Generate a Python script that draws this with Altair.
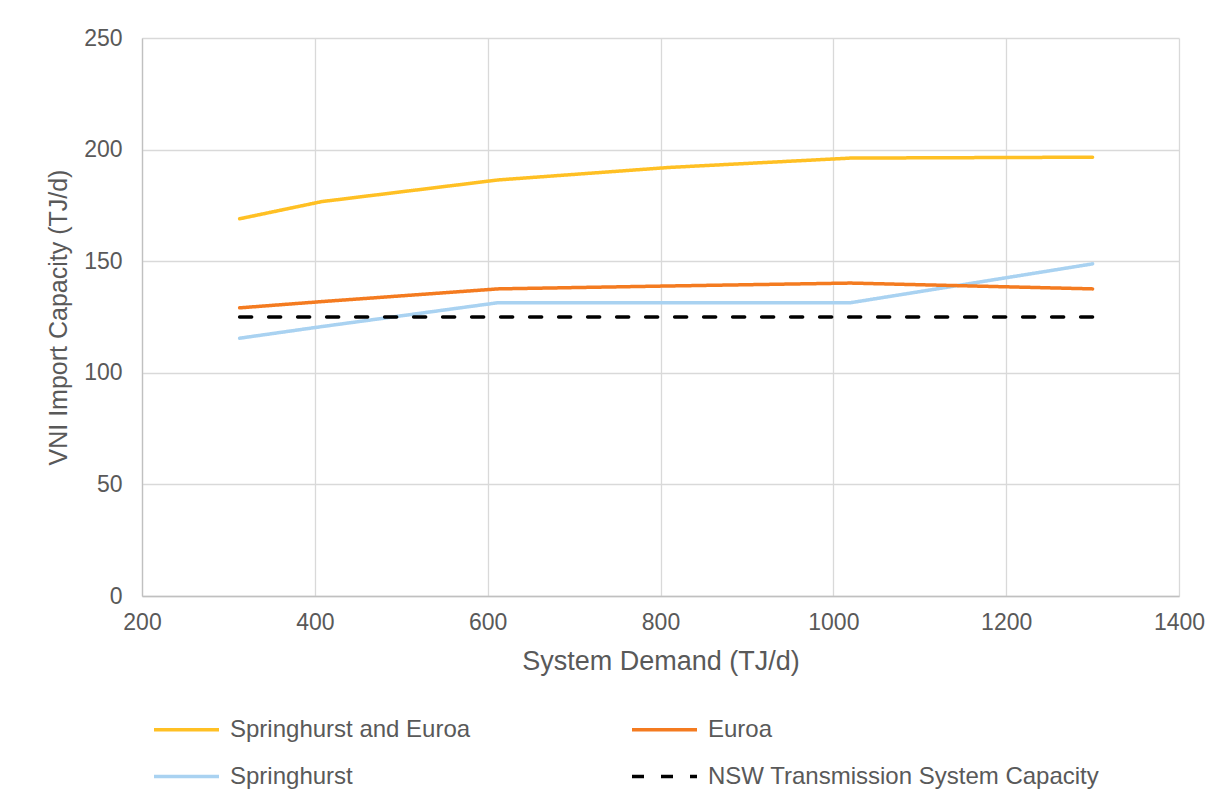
import altair as alt
import pandas as pd

# ---- data ----
demand = [313, 408, 612, 810, 1020, 1300]
springhurst_euroa = [169.0, 176.7, 186.4, 192.0, 196.2, 196.6]
euroa = [129.1, 131.9, 137.6, 138.9, 140.2, 137.6]
springhurst = [115.5, 120.7, 131.4, 131.4, 131.4, 148.8]
nsw_capacity = [125, 125, 125, 125, 125, 125]

# order chosen so the 2-column legend reads like the reference
series_names = ["Springhurst and Euroa", "Springhurst", "Euroa",
                "NSW Transmission System Capacity"]
series_values = [springhurst_euroa, springhurst, euroa, nsw_capacity]
series_colors = ["#FFC024", "#A9D2F1", "#F47B20", "#000000"]
series_dash = [[1, 0], [1, 0], [1, 0], [12, 17]]

x_ticks = [200, 400, 600, 800, 1000, 1200, 1400]
y_ticks = [0, 50, 100, 150, 200, 250]

rows = []
for name, vals in zip(series_names, series_values):
    for d, v in zip(demand, vals):
        rows.append({"series": name, "demand": d, "capacity": v})
df = pd.DataFrame(rows)

FONT = "Liberation Sans"
TXT = "#595959"

legend = alt.Legend(
    orient="none", legendX=10, legendY=657, columns=2, title=None,
    symbolType="stroke", symbolSize=4225, symbolStrokeWidth=3.5,
    labelFontSize=24, labelFont=FONT, labelColor=TXT, labelOffset=9,
    columnPadding=154, rowPadding=-45, padding=0, labelLimit=500,
)

chart = alt.Chart(df).mark_line(strokeWidth=3.5, strokeCap="round").encode(
    x=alt.X("demand:Q", scale=alt.Scale(domain=[200, 1400], nice=False),
            axis=alt.Axis(values=x_ticks, format="d", title="System Demand (TJ/d)",
                          labelFlush=False, labelOverlap=False,
                          labelPadding=15, titlePadding=14, titleFontSize=27)),
    y=alt.Y("capacity:Q", scale=alt.Scale(domain=[0, 250], nice=False),
            axis=alt.Axis(values=y_ticks, format="d", title="VNI Import Capacity (TJ/d)",
                          labelFlush=False, labelOverlap=False,
                          labelPadding=20, titlePadding=12, titleFontSize=25)),
    color=alt.Color("series:N", scale=alt.Scale(domain=series_names, range=series_colors),
                    legend=legend, sort=series_names),
    strokeDash=alt.StrokeDash("series:N", scale=alt.Scale(domain=series_names, range=series_dash),
                              legend=legend, sort=series_names),
).properties(
    width=1037, height=558,
    autosize=alt.AutoSizeParams(type="none"),
    padding={"left": 134, "top": 30, "right": 43, "bottom": 196},
    background="white",
).configure_axis(
    labelFont=FONT, labelFontSize=23, labelColor=TXT,
    titleFont=FONT, titleColor=TXT, titleFontWeight="normal",
    gridColor="#D9D9D9", gridWidth=1.3, domainColor="#C0C0C0", domainWidth=1.3,
    ticks=False,
).configure_view(stroke=None)

chart.save("out.html", embed_options={"renderer": "svg", "actions": False})
